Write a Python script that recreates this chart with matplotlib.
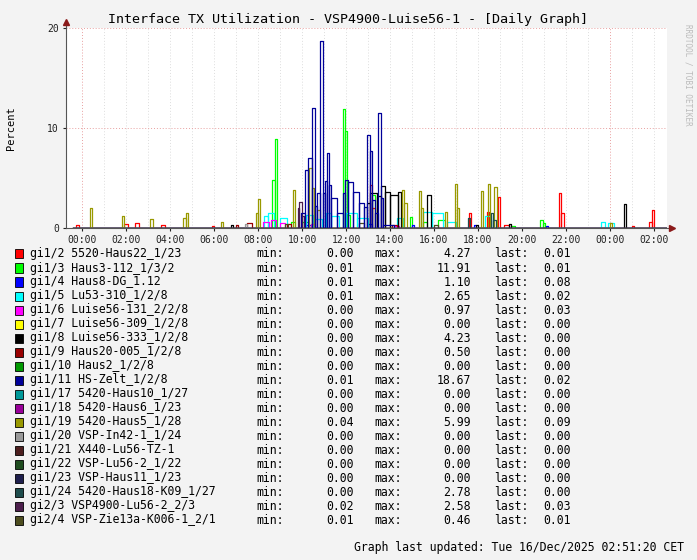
import matplotlib
matplotlib.use("Agg")
import matplotlib.pyplot as plt
from matplotlib.patches import Rectangle

W, H = 697, 560
MONO = "DejaVu Sans Mono"

names = ["gi1/2 5520-Haus22_1/23", "gi1/3 Haus3-112_1/3/2", "gi1/4 Haus8-DG_1.12",
         "gi1/5 Lu53-310_1/2/8", "gi1/6 Luise56-131_2/2/8", "gi1/7 Luise56-309_1/2/8",
         "gi1/8 Luise56-333_1/2/8", "gi1/9 Haus20-005_1/2/8", "gi1/10 Haus2_1/2/8",
         "gi1/11 HS-Zelt_1/2/8", "gi1/17 5420-Haus10_1/27", "gi1/18 5420-Haus6_1/23",
         "gi1/19 5420-Haus5_1/28", "gi1/20 VSP-In42-1_1/24", "gi1/21 X440-Lu56-TZ-1",
         "gi1/22 VSP-Lu56-2_1/22", "gi1/23 VSP-Haus11_1/23", "gi1/24 5420-Haus18-K09_1/27",
         "gi2/3 VSP4900-Lu56-2_2/3", "gi2/4 VSP-Zie13a-K006-1_2/1"]
colors = ["#FF0000", "#00FF00", "#0000FF", "#00FFFF", "#FF00FF", "#FFFF00", "#000000",
          "#990000", "#009900", "#000099", "#009999", "#990099", "#999900", "#999999",
          "#4D1F1F", "#1F4D1F", "#1F1F4D", "#1F4D4D", "#4D1F4D", "#4D4D1F"]
mins = ["0.00", "0.01", "0.01", "0.01", "0.00", "0.00", "0.00", "0.00", "0.00", "0.01",
        "0.00", "0.00", "0.04", "0.00", "0.00", "0.00", "0.00", "0.00", "0.02", "0.01"]
maxs = ["4.27", "11.91", "1.10", "2.65", "0.97", "0.00", "4.23", "0.50", "0.00", "18.67",
        "0.00", "0.00", "5.99", "0.00", "0.00", "0.00", "0.00", "2.78", "2.58", "0.46"]
lasts = ["0.01", "0.01", "0.08", "0.02", "0.03", "0.00", "0.00", "0.00", "0.00", "0.02",
         "0.00", "0.00", "0.09", "0.00", "0.00", "0.00", "0.00", "0.00", "0.03", "0.01"]

# step segments: (start hour, end hour, value); zero elsewhere
seg_red = [(-0.3, -0.15, 0.3), (1.9, 2.1, 0.4), (2.4, 2.6, 0.5), (3.6, 3.75, 0.3),
           (5.9, 6.0, 0.2), (13.08, 13.2, 4.27), (13.2, 13.3, 2.0), (17.6, 17.7, 1.5),
           (18.4, 18.5, 1.6), (18.9, 19.0, 3.1), (19.2, 19.4, 0.3), (21.7, 21.8, 3.5),
           (21.8, 21.9, 1.5), (25.0, 25.1, 0.2), (25.8, 25.9, 0.6), (25.9, 26.0, 1.8)]
seg_green = [(8.65, 8.75, 4.8), (8.75, 8.85, 8.9), (9.5, 9.7, 0.6), (10.0, 10.3, 0.6),
             (11.85, 11.95, 11.9), (11.95, 12.03, 9.7), (12.03, 12.2, 1.3),
             (13.2, 13.3, 3.3), (14.9, 15.0, 1.1), (15.5, 15.7, 0.6), (16.2, 16.5, 0.8),
             (19.5, 19.7, 0.2), (20.8, 20.95, 0.8), (20.95, 21.05, 0.5)]
seg_blue = [(10.2, 10.4, 0.3), (13.0, 13.2, 0.4), (15.0, 15.1, 0.3), (17.8, 17.9, 0.3),
            (21.1, 21.2, 0.2)]
seg_cyan = [(8.25, 8.45, 1.2), (8.45, 8.7, 1.5), (9.0, 9.3, 1.0), (10.2, 10.5, 1.3),
            (10.5, 10.9, 0.9), (11.1, 11.3, 1.5), (11.3, 11.7, 1.2), (12.0, 12.5, 1.5),
            (12.5, 13.0, 1.0), (14.3, 14.6, 1.0), (15.5, 15.9, 1.6), (15.9, 16.4, 1.5),
            (16.6, 17.0, 0.6), (18.3, 18.6, 1.2), (23.6, 23.8, 0.6), (23.9, 24.2, 0.5)]
seg_magenta = [(8.2, 8.5, 0.6), (8.6, 8.8, 0.8), (9.0, 9.2, 0.5), (10.4, 10.6, 0.4),
               (14.2, 14.4, 0.2)]
seg_black = [(6.75, 6.85, 0.3), (12.95, 13.1, 2.5), (13.1, 13.4, 3.5), (13.4, 13.6, 3.2),
             (13.6, 13.75, 4.23), (13.75, 14.0, 3.6), (14.0, 14.35, 3.3), (14.35, 14.5, 3.6),
             (15.7, 15.85, 3.3), (17.9, 18.0, 0.3), (19.4, 19.5, 0.4), (24.65, 24.75, 2.4)]
seg_darkred = [(7.0, 7.1, 0.3), (7.5, 7.7, 0.5), (9.3, 9.5, 0.4), (14.1, 14.3, 0.3)]
seg_navy = [(9.95, 10.15, 1.5), (10.15, 10.25, 5.8), (10.25, 10.45, 7.0), (10.45, 10.6, 12.0),
            (10.6, 10.68, 2.2), (10.68, 10.83, 3.5), (10.83, 10.93, 18.67), (10.93, 11.02, 3.5),
            (11.02, 11.12, 4.7), (11.12, 11.22, 7.5), (11.22, 11.33, 4.3), (11.33, 11.6, 3.0),
            (11.6, 11.85, 1.5), (11.85, 11.97, 3.5), (11.97, 12.1, 4.8), (12.1, 12.3, 4.6),
            (12.3, 12.6, 3.6), (12.6, 12.8, 2.5), (12.8, 12.95, 2.1), (12.95, 13.08, 9.3),
            (13.08, 13.2, 7.7), (13.2, 13.33, 2.8), (13.33, 13.45, 1.5), (13.45, 13.58, 11.5),
            (13.58, 13.7, 3.0), (13.7, 14.2, 0.3)]
seg_olive = [(0.35, 0.45, 2.0), (1.8, 1.9, 1.2), (3.1, 3.2, 0.9), (4.6, 4.7, 1.0),
             (4.7, 4.8, 1.5), (6.3, 6.4, 0.6), (7.9, 8.0, 1.5), (8.0, 8.1, 2.9),
             (9.6, 9.7, 3.8), (10.3, 10.45, 6.0), (10.45, 10.55, 4.0), (10.7, 10.8, 1.8),
             (14.55, 14.65, 3.8), (14.65, 14.75, 2.5), (15.3, 15.4, 3.7), (15.4, 15.5, 2.0),
             (16.5, 16.6, 1.6), (16.95, 17.05, 4.4), (17.05, 17.15, 2.0), (18.15, 18.25, 3.7),
             (18.45, 18.55, 4.4), (18.75, 18.85, 4.1), (24.0, 24.1, 0.5)]
seg_gray = [(7.4, 7.5, 0.4)]
seg_purple = [(9.8, 9.88, 2.0), (9.88, 10.0, 2.58), (10.0, 10.1, 1.2)]
seg_teal = [(17.55, 17.65, 1.0), (18.6, 18.7, 1.5), (18.7, 18.8, 0.8)]
seg_olive2 = [(9.2, 9.35, 0.4), (12.6, 12.8, 0.46), (16.0, 16.2, 0.3)]

series = [(seg_red, 0), (seg_green, 1), (seg_blue, 2), (seg_cyan, 3), (seg_magenta, 4),
          (seg_black, 6), (seg_darkred, 7), (seg_olive, 12), (seg_gray, 13),
          (seg_purple, 18), (seg_teal, 17), (seg_olive2, 19), (seg_navy, 9)]

T0, T1 = -0.74, 26.6
fig = plt.figure(figsize=(W / 100, H / 100), dpi=100, facecolor="#F3F3F3")
ax = fig.add_axes([66 / W, 1 - 228 / H, (667 - 66) / W, 200 / H], facecolor="white")
ax.set_xlim(T0, T1)
ax.set_ylim(0, 20)

for h in range(0, 27):
    col = "#E8A0A0" if h in (0, 24) else "#DDDDDD"
    ax.axvline(h, color=col, lw=0.7, ls=(0, (1, 2)), zorder=0)
for y in (10, 20):
    ax.axhline(y, color="#E8A0A0", lw=0.7, ls=(0, (1, 2)), zorder=0)

for segs, ci in series:
    xs, ys = [T0 + 0.3], [0.05]
    for a, b, v in segs:
        xs += [a, b]
        ys += [v, 0.05]
    xs.append(26.55)
    ys.append(0.05)
    ax.step(xs, ys, where="post", color=colors[ci], lw=0.9, zorder=2)

for s in ax.spines.values():
    s.set_visible(False)
ax.plot([T0, T0], [0, 20.4], color="#555555", lw=0.8, clip_on=False)
ax.plot([T0, T1 + 0.2], [0, 0], color="#555555", lw=0.8, clip_on=False)
ax.plot(T1 + 0.25, 0, marker=">", color="#8B1A1A", ms=4, clip_on=False)
ax.plot(T0, 20.6, marker="^", color="#8B1A1A", ms=4, clip_on=False)
ax.set_xticks(range(0, 27, 2))
ax.set_xticklabels(["00:00", "02:00", "04:00", "06:00", "08:00", "10:00", "12:00", "14:00",
                    "16:00", "18:00", "20:00", "22:00", "00:00", "02:00"],
                   family=MONO, fontsize=7)
ax.set_yticks([0, 10, 20])
ax.set_yticklabels(["0", "10", "20"], family=MONO, fontsize=7)
ax.tick_params(length=2, pad=3, colors="#222222")

fig.text(348 / W, 1 - 19 / H, "Interface TX Utilization - VSP4900-Luise56-1 - [Daily Graph]",
         ha="center", va="center", family=MONO, fontsize=9.6)
fig.text(11 / W, 1 - 128 / H, "Percent", rotation=90, ha="center", va="center",
         family=MONO, fontsize=7.5)
fig.text(688 / W, 1 - 75 / H, "RRDTOOL / TOBI OETIKER", rotation=270, ha="center",
         va="center", family=MONO, fontsize=5.5, color="#BBBBBB")

for i, n in enumerate(names):
    y = 1 - (254 + 14 * i) / H
    fig.patches.append(Rectangle((15 / W, y - 4.5 / H), 8 / W, 9 / H, transform=fig.transFigure,
                                 facecolor=colors[i], edgecolor="black", lw=0.6))
    kw = dict(va="center", family=MONO, fontsize=8.3)
    fig.text(30 / W, y, n, ha="left", **kw)
    fig.text(256 / W, y, "min:", ha="left", **kw)
    fig.text(354 / W, y, mins[i], ha="right", **kw)
    fig.text(374 / W, y, "max:", ha="left", **kw)
    fig.text(471 / W, y, maxs[i], ha="right", **kw)
    fig.text(494 / W, y, "last:", ha="left", **kw)
    fig.text(571 / W, y, lasts[i], ha="right", **kw)

fig.text(684 / W, 1 - 547 / H, "Graph last updated: Tue 16/Dec/2025 02:51:20 CET",
         ha="right", va="center", family=MONO, fontsize=8.3)
fig.savefig("out.png", dpi=100, facecolor=fig.get_facecolor())
